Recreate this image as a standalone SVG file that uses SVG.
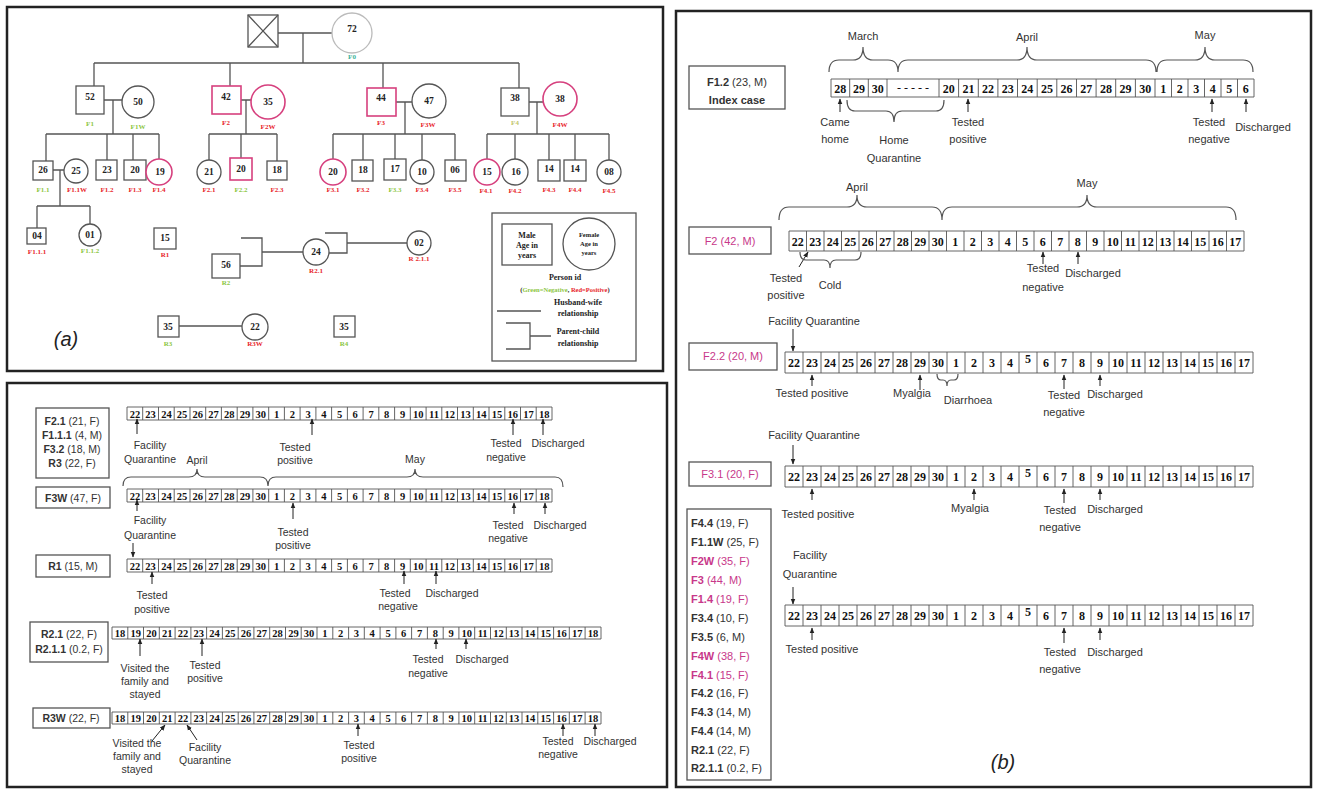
<svg xmlns="http://www.w3.org/2000/svg" width="1317" height="789" viewBox="0 0 1317 789">
<defs>
<style>
.pb{fill:none;stroke:#222;stroke-width:2.5}
.ln{fill:none;stroke:#555;stroke-width:1.3}
.nd{fill:#fff;stroke:#555;stroke-width:1.3}
.gy{fill:#fff;stroke:#bbb;stroke-width:1.3}
.pk{fill:#fff;stroke:#d6407e;stroke-width:1.6}
.age{font-family:"Liberation Serif",serif;font-weight:bold;font-size:9.5px;text-anchor:middle;fill:#222}
.id{font-family:"Liberation Serif",serif;font-weight:bold;font-size:7px;text-anchor:middle}
.r{fill:#e8252a}.g{fill:#8cc63f}.yg{fill:#c2c66a}.tl{fill:#3cb39a}
.lg{font-family:"Liberation Serif",serif;font-weight:bold;font-size:8px;text-anchor:middle;fill:#222}
.lgs{font-family:"Liberation Serif",serif;font-weight:bold;font-size:6.5px;text-anchor:middle;fill:#222}
.cell{fill:#fff;stroke:#555;stroke-width:0.9}
.n12{font-family:"Liberation Serif",serif;font-weight:bold;font-size:12px;text-anchor:middle;fill:#111}
.n10{font-family:"Liberation Serif",serif;font-weight:bold;font-size:10.5px;text-anchor:middle;fill:#111}
.t{font-family:"Liberation Sans",sans-serif;font-size:11px;text-anchor:middle;fill:#333}
.ts{font-family:"Liberation Sans",sans-serif;font-size:10.5px;text-anchor:middle;fill:#333}
.bx{fill:#fff;stroke:#555;stroke-width:1.3}
.m{fill:#c8388a}
.ar{fill:none;stroke:#222;stroke-width:1;marker-end:url(#ah)}
.br{fill:none;stroke:#555;stroke-width:1.2}
.lab{font-family:"Liberation Sans",sans-serif;font-size:20px;font-style:italic;text-anchor:middle;fill:#222}
</style>
<marker id="ah" viewBox="0 0 10 10" refX="9" refY="5" markerWidth="6" markerHeight="6" orient="auto"><path d="M0 1L10 5L0 9z" fill="#222"/></marker>
<g id="rowA">
<path class="cell" d="M785 0H1253V21H785Z M803 0V21 M821 0V21 M839 0V21 M857 0V21 M875 0V21 M893 0V21 M911 0V21 M929 0V21 M947 0V21 M965 0V21 M983 0V21 M1001 0V21 M1019 0V21 M1037 0V21 M1055 0V21 M1073 0V21 M1091 0V21 M1109 0V21 M1127 0V21 M1145 0V21 M1163 0V21 M1181 0V21 M1199 0V21 M1217 0V21 M1235 0V21"/>
<g class="n12">
<text x="794" y="15">22</text><text x="812" y="15">23</text><text x="830" y="15">24</text><text x="848" y="15">25</text><text x="866" y="15">26</text><text x="884" y="15">27</text><text x="902" y="15">28</text><text x="920" y="15">29</text><text x="938" y="15">30</text><text x="956" y="15">1</text><text x="974" y="15">2</text><text x="992" y="15">3</text><text x="1010" y="15">4</text><text x="1028" y="11">5</text><text x="1046" y="15">6</text><text x="1064" y="15">7</text><text x="1082" y="15">8</text><text x="1100" y="15">9</text><text x="1118" y="15">10</text><text x="1136" y="15">11</text><text x="1154" y="15">12</text><text x="1172" y="15">13</text><text x="1190" y="15">14</text><text x="1208" y="15">15</text><text x="1226" y="15">16</text><text x="1244" y="15">17</text>
</g>
</g>
<g id="rowC">
<path class="cell" d="M127 0H552V13H127Z M142.7 0V13 M158.5 0V13 M174.2 0V13 M190 0V13 M205.7 0V13 M221.4 0V13 M237.2 0V13 M252.9 0V13 M268.7 0V13 M284.4 0V13 M300.1 0V13 M315.9 0V13 M331.6 0V13 M347.4 0V13 M363.1 0V13 M378.8 0V13 M394.6 0V13 M410.3 0V13 M426.1 0V13 M441.8 0V13 M457.5 0V13 M473.3 0V13 M489 0V13 M504.8 0V13 M520.5 0V13 M536.2 0V13"/>
<g class="n10">
<text x="134.9" y="10.5">22</text><text x="150.6" y="10.5">23</text><text x="166.4" y="10.5">24</text><text x="182.1" y="10.5">25</text><text x="197.8" y="10.5">26</text><text x="213.6" y="10.5">27</text><text x="229.3" y="10.5">28</text><text x="245.1" y="10.5">29</text><text x="260.8" y="10.5">30</text><text x="276.5" y="10.5">1</text><text x="292.3" y="10.5">2</text><text x="308" y="10.5">3</text><text x="323.8" y="10.5">4</text><text x="339.5" y="10.5">5</text><text x="355.2" y="10.5">6</text><text x="371" y="10.5">7</text><text x="386.7" y="10.5">8</text><text x="402.5" y="10.5">9</text><text x="418.2" y="10.5">10</text><text x="434" y="10.5">11</text><text x="449.7" y="10.5">12</text><text x="465.5" y="10.5">13</text><text x="481.2" y="10.5">14</text><text x="496.9" y="10.5">15</text><text x="512.7" y="10.5">16</text><text x="528.4" y="10.5">17</text><text x="544.2" y="10.5">18</text>
</g>
</g>
<g id="rowR">
<path class="cell" d="M112 0H601V12H112Z M127.8 0V12 M143.5 0V12 M159.3 0V12 M175.1 0V12 M190.9 0V12 M206.6 0V12 M222.4 0V12 M238.2 0V12 M253.9 0V12 M269.7 0V12 M285.5 0V12 M301.2 0V12 M317 0V12 M332.8 0V12 M348.6 0V12 M364.3 0V12 M380.1 0V12 M395.9 0V12 M411.6 0V12 M427.4 0V12 M443.2 0V12 M458.9 0V12 M474.7 0V12 M490.5 0V12 M506.3 0V12 M522 0V12 M537.8 0V12 M553.6 0V12 M569.3 0V12 M585.1 0V12"/>
<g class="n10">
<text x="119.9" y="10">18</text><text x="135.7" y="10">19</text><text x="151.4" y="10">20</text><text x="167.2" y="10">21</text><text x="183" y="10">22</text><text x="198.7" y="10">23</text><text x="214.5" y="10">24</text><text x="230.3" y="10">25</text><text x="246" y="10">26</text><text x="261.8" y="10">27</text><text x="277.6" y="10">28</text><text x="293.4" y="10">29</text><text x="309.1" y="10">30</text><text x="324.9" y="10">1</text><text x="340.7" y="10">2</text><text x="356.4" y="10">3</text><text x="372.2" y="10">4</text><text x="388" y="10">5</text><text x="403.7" y="10">6</text><text x="419.5" y="10">7</text><text x="435.3" y="10">8</text><text x="451.1" y="10">9</text><text x="466.8" y="10">10</text><text x="482.6" y="10">11</text><text x="498.4" y="10">12</text><text x="514.1" y="10">13</text><text x="529.9" y="10">14</text><text x="545.7" y="10">15</text><text x="561.4" y="10">16</text><text x="577.2" y="10">17</text><text x="593" y="10">18</text>
</g>
</g>
</defs>
<rect width="1317" height="789" fill="#fff"/>

<!-- panel frames -->
<rect class="pb" x="7" y="7" width="656" height="364"/>
<rect class="pb" x="7" y="383" width="660" height="404"/>
<rect class="pb" x="676" y="11" width="635" height="776"/>

<!-- ===== Panel (a) pedigree ===== -->
<g id="connectors">
<path class="ln" d="M278 33H332 M303 33V63 M94 63H519 M94 63V86 M230 63V86 M383 63V88 M519 63V88"/>
<path class="ln" d="M104 100H122 M113 100V134 M46 134H159 M46 134V161 M107 134V160 M133 134V160 M159 134V159"/>
<path class="ln" d="M53 170H64 M60 170V206 M37 206H90 M37 206V228 M90 206V224"/>
<path class="ln" d="M241 100H251 M246 100V134 M209 134H277 M209 134V160 M241 134V158 M277 134V161"/>
<path class="ln" d="M396 102H412 M405 102V134 M333 134H455 M333 134V159 M363 134V160 M395 134V159 M422 134V160 M455 134V160"/>
<path class="ln" d="M529 102H543 M537 102V134 M487 134H609 M487 134V159 M515 134V159 M549 134V160 M575 134V160 M609 134V160"/>
<path class="ln" d="M241 238H262V266H240 M262 252H303 M325 233H347V253H329 M347 243H407"/>
<path class="ln" d="M179 326H242"/>
</g>

<g id="F0">
<rect class="nd" x="248" y="15" width="30" height="32"/>
<path class="ln" d="M248 15L278 47M278 15L248 47"/>
<circle class="gy" cx="352" cy="33" r="20"/>
<text class="age" x="352" y="32">72</text>
<text class="id tl" x="352" y="59">F0</text>
</g>
<g id="F1"><rect class="nd" x="76" y="86" width="28" height="28"/><text class="age" x="90" y="100">52</text><text class="id g" x="90" y="126">F1</text></g>
<g id="F1W"><circle class="nd" cx="138" cy="102" r="16"/><text class="age" x="138" y="105">50</text><text class="id g" x="138" y="129">F1W</text></g>
<g id="F1.1"><rect class="nd" x="33" y="161" width="20" height="19"/><text class="age" x="43" y="173">26</text><text class="id g" x="43" y="192">F1.1</text></g>
<g id="F1.1W"><circle class="nd" cx="76" cy="171" r="12"/><text class="age" x="76" y="174">25</text><text class="id r" x="77" y="192">F1.1W</text></g>
<g id="F1.1.1"><rect class="nd" x="27" y="228" width="19" height="16"/><text class="age" x="37" y="239">04</text><text class="id r" x="37" y="254">F1.1.1</text></g>
<g id="F1.1.2"><circle class="nd" cx="90" cy="235" r="11"/><text class="age" x="90" y="238">01</text><text class="id g" x="90" y="253">F1.1.2</text></g>
<g id="F1.2"><rect class="nd" x="96" y="160" width="21" height="20"/><text class="age" x="107" y="173">23</text><text class="id r" x="107" y="192">F1.2</text></g>
<g id="F1.3"><rect class="nd" x="124" y="160" width="22" height="20"/><text class="age" x="135" y="173">20</text><text class="id r" x="135" y="192">F1.3</text></g>
<g id="F1.4"><circle class="pk" cx="159" cy="172" r="13"/><text class="age" x="160" y="175">19</text><text class="id r" x="159" y="192">F1.4</text></g>

<g id="F2"><rect class="pk" x="212" y="86" width="29" height="28"/><text class="age" x="226" y="100">42</text><text class="id r" x="226" y="125">F2</text></g>
<g id="F2W"><circle class="pk" cx="268" cy="102" r="17"/><text class="age" x="268" y="105">35</text><text class="id r" x="268" y="129">F2W</text></g>
<g id="F2.1"><circle class="nd" cx="209" cy="172" r="12"/><text class="age" x="209" y="175">21</text><text class="id r" x="209" y="192">F2.1</text></g>
<g id="F2.2"><rect class="pk" x="230" y="158" width="22" height="22"/><text class="age" x="241" y="172">20</text><text class="id g" x="241" y="192">F2.2</text></g>
<g id="F2.3"><rect class="nd" x="267" y="161" width="20" height="19"/><text class="age" x="277" y="173">18</text><text class="id r" x="277" y="192">F2.3</text></g>

<g id="F3"><rect class="pk" x="367" y="88" width="29" height="28"/><text class="age" x="381" y="101">44</text><text class="id r" x="381" y="125">F3</text></g>
<g id="F3W"><circle class="nd" cx="429" cy="101" r="17"/><text class="age" x="429" y="104">47</text><text class="id r" x="428" y="127">F3W</text></g>
<g id="F3.1"><circle class="pk" cx="333" cy="172" r="13"/><text class="age" x="333" y="175">20</text><text class="id r" x="333" y="192">F3.1</text></g>
<g id="F3.2"><rect class="nd" x="352" y="160" width="21" height="21"/><text class="age" x="363" y="173">18</text><text class="id r" x="363" y="192">F3.2</text></g>
<g id="F3.3"><rect class="nd" x="384" y="159" width="22" height="21"/><text class="age" x="395" y="172">17</text><text class="id g" x="395" y="192">F3.3</text></g>
<g id="F3.4"><circle class="nd" cx="422" cy="172" r="12"/><text class="age" x="422" y="175">10</text><text class="id r" x="422" y="192">F3.4</text></g>
<g id="F3.5"><rect class="nd" x="445" y="160" width="21" height="21"/><text class="age" x="455" y="173">06</text><text class="id r" x="455" y="192">F3.5</text></g>

<g id="F4"><rect class="nd" x="501" y="88" width="28" height="28"/><text class="age" x="515" y="101">38</text><text class="id yg" x="515" y="125">F4</text></g>
<g id="F4W"><circle class="pk" cx="560" cy="99" r="17"/><text class="age" x="560" y="102">38</text><text class="id r" x="560" y="127">F4W</text></g>
<g id="F4.1"><circle class="pk" cx="487" cy="172" r="13"/><text class="age" x="487" y="175">15</text><text class="id r" x="486" y="193">F4.1</text></g>
<g id="F4.2"><circle class="nd" cx="515" cy="172" r="13"/><text class="age" x="516" y="175">16</text><text class="id r" x="515" y="193">F4.2</text></g>
<g id="F4.3"><rect class="nd" x="538" y="160" width="22" height="21"/><text class="age" x="549" y="172">14</text><text class="id r" x="549" y="192">F4.3</text></g>
<g id="F4.4"><rect class="nd" x="564" y="160" width="22" height="21"/><text class="age" x="575" y="172">14</text><text class="id r" x="575" y="192">F4.4</text></g>
<g id="F4.5"><circle class="nd" cx="609" cy="172" r="12"/><text class="age" x="609" y="175">08</text><text class="id r" x="609" y="193">F4.5</text></g>

<g id="R1"><rect class="nd" x="154" y="228" width="22" height="21"/><text class="age" x="165" y="241">15</text><text class="id r" x="165" y="257">R1</text></g>
<g id="R2"><rect class="nd" x="212" y="254" width="28" height="24"/><text class="age" x="226" y="268">56</text><text class="id g" x="226" y="285">R2</text></g>
<g id="R2.1"><circle class="nd" cx="316" cy="252" r="13"/><text class="age" x="316" y="255">24</text><text class="id r" x="316" y="273">R2.1</text></g>
<g id="R2.1.1"><circle class="nd" cx="419" cy="243" r="12"/><text class="age" x="419" y="246">02</text><text class="id r" x="419" y="261">R 2.1.1</text></g>
<g id="R3"><rect class="nd" x="158" y="316" width="21" height="21"/><text class="age" x="168" y="330">35</text><text class="id g" x="168" y="346">R3</text></g>
<g id="R3W"><circle class="nd" cx="255" cy="327" r="13"/><text class="age" x="255" y="330">22</text><text class="id r" x="255" y="346">R3W</text></g>
<g id="R4"><rect class="nd" x="334" y="316" width="21" height="21"/><text class="age" x="344" y="330">35</text><text class="id g" x="344" y="346">R4</text></g>
<text class="lab" x="66" y="346">(<tspan>a</tspan>)</text>

<g id="legend">
<rect class="nd" x="492" y="213" width="144" height="148"/>
<rect class="nd" x="502" y="224" width="50" height="41"/>
<text class="lg" x="527" y="238">Male</text><text class="lg" x="527" y="248">Age in</text><text class="lg" x="527" y="258">years</text>
<circle class="nd" cx="589" cy="244" r="26"/>
<text class="lgs" x="589" y="237">Female</text><text class="lgs" x="589" y="246">Age in</text><text class="lgs" x="589" y="255">years</text>
<text class="lg" x="565" y="280">Person id</text>
<text class="lgs" x="565" y="292">(<tspan class="g">Green=Negative</tspan>, <tspan class="r">Red=Positive</tspan>)</text>
<path class="ln" d="M497 311H541"/>
<text class="lg" x="578" y="305">Husband-wife</text><text class="lg" x="578" y="316">relationship</text>
<path class="ln" d="M506 323H530V349H506 M530 336H551"/>
<text class="lg" x="578" y="334">Parent-child</text><text class="lg" x="578" y="346">relationship</text>
</g>

<!-- ===== Panel (b) ===== -->
<g id="F1.2-timeline">
<rect class="bx" x="689" y="66" width="96" height="43"/>
<text class="t" x="737" y="86"><tspan font-weight="bold">F1.2</tspan> (23, M)</text>
<text class="t" x="737" y="104" font-weight="bold">Index case</text>
<path class="br" d="M829 72Q829 60 839 60L853 60Q863 60 863 47Q863 60 873 60L888 60Q898 60 898 72 M898 72Q898 60 908 60L1017 60Q1027 60 1027 47Q1027 60 1037 60L1146 60Q1156 60 1156 72 M1157 72Q1157 60 1167 60L1195 60Q1205 60 1205 47Q1205 60 1215 60L1243 60Q1253 60 1253 72"/>
<text class="t" x="863" y="40">March</text><text class="t" x="1027" y="41">April</text><text class="t" x="1205" y="39">May</text>
<path class="cell" d="M831 79H1254V97H831Z M849.7 79V97 M868.3 79V97 M887 79V97 M939 79V97 M958.6 79V97 M978.3 79V97 M997.9 79V97 M1017.5 79V97 M1037.2 79V97 M1056.8 79V97 M1076.5 79V97 M1096.1 79V97 M1115.7 79V97 M1135.4 79V97 M1155 79V97 M1171.5 79V97 M1188 79V97 M1204.5 79V97 M1221 79V97 M1237.5 79V97"/>
<g class="n12">
<text x="840.3" y="93">28</text><text x="859" y="93">29</text><text x="877.7" y="93">30</text><text x="913" y="92" font-weight="normal">- - - - -</text><text x="948.8" y="93">20</text><text x="968.4" y="93">21</text><text x="988.1" y="93">22</text><text x="1007.7" y="93">23</text><text x="1027.3" y="93">24</text><text x="1047" y="93">25</text><text x="1066.6" y="93">26</text><text x="1086.3" y="93">27</text><text x="1105.9" y="93">28</text><text x="1125.5" y="93">29</text><text x="1145.2" y="93">30</text><text x="1163.3" y="93">1</text><text x="1179.8" y="93">2</text><text x="1196.3" y="93">3</text><text x="1212.8" y="93">4</text><text x="1229.3" y="93">5</text><text x="1245.8" y="93">6</text>
</g>
<path class="ar" d="M840 112V99"/><path class="ar" d="M968 112V99"/><path class="ar" d="M1212 112V99"/><path class="ar" d="M1246 112V99"/>
<path class="br" d="M847 100Q847 111 855 111L886 111Q894 111 894 122Q894 111 902 111L936 111Q944 111 944 100"/>
<text class="t" x="835" y="126">Came</text><text class="t" x="835" y="143">home</text>
<text class="t" x="894" y="144">Home</text><text class="t" x="894" y="162">Quarantine</text>
<text class="t" x="968" y="126">Tested</text><text class="t" x="968" y="143">positive</text>
<text class="t" x="1209" y="126">Tested</text><text class="t" x="1209" y="143">negative</text>
<text class="t" x="1263" y="131">Discharged</text>
</g>

<g id="F2-timeline">
<path class="br" d="M779 220Q779 207 789 207L847 207Q857 207 857 195Q857 207 867 207L932 207Q942 207 942 220 M942 220Q942 207 952 207L1077 207Q1087 207 1087 195Q1087 207 1097 207L1226 207Q1236 207 1236 220"/>
<text class="t" x="857" y="191">April</text><text class="t" x="1087" y="187">May</text>
<rect class="bx" x="689" y="227" width="82" height="27"/>
<text class="t m" x="730" y="245">F2 (42, M)</text>
<path class="cell" d="M789 231H1244V251H789Z M806.5 231V251 M824 231V251 M841.5 231V251 M859 231V251 M876.5 231V251 M894 231V251 M911.5 231V251 M929 231V251 M946.5 231V251 M964 231V251 M981.5 231V251 M999 231V251 M1016.5 231V251 M1034 231V251 M1051.5 231V251 M1069 231V251 M1086.5 231V251 M1104 231V251 M1121.5 231V251 M1139 231V251 M1156.5 231V251 M1174 231V251 M1191.5 231V251 M1209 231V251 M1226.5 231V251"/>
<g class="n12">
<text x="797.8" y="246">22</text><text x="815.3" y="246">23</text><text x="832.8" y="246">24</text><text x="850.3" y="246">25</text><text x="867.8" y="246">26</text><text x="885.3" y="246">27</text><text x="902.8" y="246">28</text><text x="920.3" y="246">29</text><text x="937.8" y="246">30</text><text x="955.3" y="246">1</text><text x="972.8" y="246">2</text><text x="990.3" y="246">3</text><text x="1007.8" y="246">4</text><text x="1025.3" y="246">5</text><text x="1042.8" y="246">6</text><text x="1060.3" y="246">7</text><text x="1077.8" y="246">8</text><text x="1095.3" y="246">9</text><text x="1112.8" y="246">10</text><text x="1130.3" y="246">11</text><text x="1147.8" y="246">12</text><text x="1165.3" y="246">13</text><text x="1182.8" y="246">14</text><text x="1200.3" y="246">15</text><text x="1217.8" y="246">16</text><text x="1235.3" y="246">17</text>
</g>
<path class="ar" d="M799 267L808 252"/>
<path class="br" d="M800 252Q800 260 806 260L824 260Q830 260 830 268Q830 260 836 260L855 260Q861 260 861 252"/>
<path class="ar" d="M1043 264V252"/><path class="ar" d="M1078 264V252"/>
<text class="t" x="786" y="282">Tested</text><text class="t" x="786" y="299">positive</text>
<text class="t" x="830" y="289">Cold</text>
<text class="t" x="1043" y="272">Tested</text><text class="t" x="1043" y="291">negative</text>
<text class="t" x="1093" y="277">Discharged</text>
</g>

<g id="F2.2-timeline">
<text class="t" x="814" y="325">Facility Quarantine</text>
<path class="ar" d="M793 329V351"/>
<rect class="bx" x="689" y="343" width="88" height="27"/>
<text class="t m" x="733" y="360">F2.2 (20, M)</text>
<use href="#rowA" y="352"/>
<path class="ar" d="M812 386V375"/><path class="ar" d="M920 390V375"/><path class="ar" d="M1064 389V375"/><path class="ar" d="M1100 386V375"/>
<path class="br" d="M937 374Q937 380 941 380L943 380Q947 380 947 386Q947 380 951 380L954 380Q958 380 958 374"/>
<text class="t" x="812" y="397">Tested positive</text>
<text class="t" x="912" y="397">Myalgia</text>
<text class="t" x="968" y="404">Diarrhoea</text>
<text class="t" x="1064" y="399">Tested</text><text class="t" x="1064" y="416">negative</text>
<text class="t" x="1115" y="398">Discharged</text>
</g>

<g id="F3.1-timeline">
<text class="t" x="814" y="439">Facility Quarantine</text>
<path class="ar" d="M793 445V464"/>
<rect class="bx" x="689" y="462" width="82" height="24"/>
<text class="t m" x="730" y="478">F3.1 (20, F)</text>
<use href="#rowA" y="466"/>
<path class="ar" d="M812 500V489"/><path class="ar" d="M974 500V489"/><path class="ar" d="M1064 503V489"/><path class="ar" d="M1100 500V489"/>
<text class="t" x="818" y="518">Tested positive</text>
<text class="t" x="970" y="512">Myalgia</text>
<text class="t" x="1060" y="514">Tested</text><text class="t" x="1060" y="531">negative</text>
<text class="t" x="1115" y="513">Discharged</text>
</g>

<g id="group-list">
<rect class="bx" x="687" y="509" width="84" height="271"/>
<g class="t">
<text x="691" y="527" text-anchor="start"><tspan font-weight="bold">F4.4</tspan> (19, F)</text>
<text x="691" y="546" text-anchor="start"><tspan font-weight="bold">F1.1W</tspan> (25, F)</text>
<text x="691" y="565" text-anchor="start" class="m"><tspan font-weight="bold">F2W</tspan> (35, F)</text>
<text x="691" y="584" text-anchor="start" class="m"><tspan font-weight="bold">F3</tspan> (44, M)</text>
<text x="691" y="603" text-anchor="start" class="m"><tspan font-weight="bold">F1.4</tspan> (19, F)</text>
<text x="691" y="622" text-anchor="start"><tspan font-weight="bold">F3.4</tspan> (10, F)</text>
<text x="691" y="641" text-anchor="start"><tspan font-weight="bold">F3.5</tspan> (6, M)</text>
<text x="691" y="660" text-anchor="start" class="m"><tspan font-weight="bold">F4W</tspan> (38, F)</text>
<text x="691" y="679" text-anchor="start" class="m"><tspan font-weight="bold">F4.1</tspan> (15, F)</text>
<text x="691" y="697" text-anchor="start"><tspan font-weight="bold">F4.2</tspan> (16, F)</text>
<text x="691" y="716" text-anchor="start"><tspan font-weight="bold">F4.3</tspan> (14, M)</text>
<text x="691" y="735" text-anchor="start"><tspan font-weight="bold">F4.4</tspan> (14, M)</text>
<text x="691" y="754" text-anchor="start"><tspan font-weight="bold">R2.1</tspan> (22, F)</text>
<text x="691" y="772" text-anchor="start"><tspan font-weight="bold">R2.1.1</tspan> (0.2, F)</text>
</g>
</g>

<g id="group-timeline">
<text class="t" x="810" y="559">Facility</text><text class="t" x="810" y="578">Quarantine</text>
<path class="ar" d="M793 587V604"/>
<use href="#rowA" y="605"/>
<path class="ar" d="M812 640V628"/><path class="ar" d="M1064 643V628"/><path class="ar" d="M1100 640V628"/>
<text class="t" x="822" y="653">Tested positive</text>
<text class="t" x="1060" y="656">Tested</text><text class="t" x="1060" y="673">negative</text>
<text class="t" x="1115" y="656">Discharged</text>
</g>
<text class="lab" x="1003" y="769">(b)</text>

<!-- ===== Bottom-left panel ===== -->
<g id="box-F2.1">
<rect class="bx" x="36" y="408" width="73" height="70"/>
<text class="ts" x="72" y="425"><tspan font-weight="bold">F2.1</tspan> (21, F)</text>
<text class="ts" x="72" y="439"><tspan font-weight="bold">F1.1.1</tspan> (4, M)</text>
<text class="ts" x="72" y="453"><tspan font-weight="bold">F3.2</tspan> (18, M)</text>
<text class="ts" x="72" y="467"><tspan font-weight="bold">R3</tspan> (22, F)</text>
</g>
<g id="row-F2.1">
<use href="#rowC" y="407"/>
<path class="ar" d="M137 434V419"/><path class="ar" d="M312 435V419"/><path class="ar" d="M513 435V419"/><path class="ar" d="M543 435V419"/>
<text class="ts" x="150" y="449">Facility</text><text class="ts" x="150" y="463">Quarantine</text>
<text class="ts" x="295" y="451">Tested</text><text class="ts" x="295" y="464">positive</text>
<text class="ts" x="506" y="447">Tested</text><text class="ts" x="506" y="461">negative</text>
<text class="ts" x="558" y="447">Discharged</text>
</g>
<g id="row-F3W">
<path class="br" d="M123 486Q123 477 131 477L189 477Q197 477 197 469Q197 477 205 477L260 477Q268 477 268 486 M268 486Q268 477 276 477L407 477Q415 477 415 469Q415 477 423 477L555 477Q563 477 563 487"/>
<text class="ts" x="197" y="464">April</text><text class="ts" x="415" y="463">May</text>
<rect class="bx" x="36" y="487" width="74" height="21"/>
<text class="ts" x="73" y="502"><tspan font-weight="bold">F3W</tspan> (47, F)</text>
<use href="#rowC" y="489"/>
<path class="ar" d="M137 511V500"/><path class="ar" d="M293 519V503"/><path class="ar" d="M514 514V503"/><path class="ar" d="M545 514V503"/>
<text class="ts" x="150" y="524">Facility</text><text class="ts" x="150" y="539">Quarantine</text>
<text class="ts" x="293" y="536">Tested</text><text class="ts" x="293" y="549">positive</text>
<text class="ts" x="508" y="529">Tested</text><text class="ts" x="508" y="542">negative</text>
<text class="ts" x="560" y="529">Discharged</text>
<path class="ar" d="M133 543V557"/>
</g>
<g id="row-R1">
<rect class="bx" x="36" y="555" width="74" height="22"/>
<text class="ts" x="73" y="570"><tspan font-weight="bold">R1</tspan> (15, M)</text>
<use href="#rowC" y="559"/>
<path class="ar" d="M152 584V572"/><path class="ar" d="M404 584V571"/><path class="ar" d="M436 584V571"/>
<text class="ts" x="152" y="599">Tested</text><text class="ts" x="152" y="613">positive</text>
<text class="ts" x="395" y="597">Tested</text><text class="ts" x="398" y="610">negative</text>
<text class="ts" x="452" y="597">Discharged</text>
</g>
<g id="row-R2.1">
<rect class="bx" x="30" y="622" width="78" height="40"/>
<text class="ts" x="69" y="638"><tspan font-weight="bold">R2.1</tspan> (22, F)</text>
<text class="ts" x="69" y="653"><tspan font-weight="bold">R2.1.1</tspan> (0.2, F)</text>
<use href="#rowR" y="627"/>
<path class="ar" d="M140 656V639"/><path class="ar" d="M202 656V639"/><path class="ar" d="M436 649V639"/><path class="ar" d="M466 649V639"/>
<text class="ts" x="145" y="672">Visited the</text><text class="ts" x="145" y="685">family and</text><text class="ts" x="145" y="698">stayed</text>
<text class="ts" x="205" y="669">Tested</text><text class="ts" x="205" y="682">positive</text>
<text class="ts" x="428" y="663">Tested</text><text class="ts" x="428" y="677">negative</text>
<text class="ts" x="482" y="663">Discharged</text>
</g>
<g id="row-R3W">
<rect class="bx" x="33" y="708" width="77" height="20"/>
<text class="ts" x="71" y="722"><tspan font-weight="bold">R3W</tspan> (22, F)</text>
<use href="#rowR" y="712"/>
<path class="ar" d="M152 741L165 725"/><path class="ar" d="M197 740L187 725"/><path class="ar" d="M358 736V724"/><path class="ar" d="M563 736V724"/><path class="ar" d="M595 736V724"/>
<text class="ts" x="137" y="747">Visited the</text><text class="ts" x="137" y="760">family and</text><text class="ts" x="137" y="773">stayed</text>
<text class="ts" x="205" y="751">Facility</text><text class="ts" x="205" y="764">Quarantine</text>
<text class="ts" x="359" y="749">Tested</text><text class="ts" x="359" y="762">positive</text>
<text class="ts" x="558" y="745">Tested</text><text class="ts" x="558" y="758">negative</text>
<text class="ts" x="610" y="745">Discharged</text>
</g>
</svg>
